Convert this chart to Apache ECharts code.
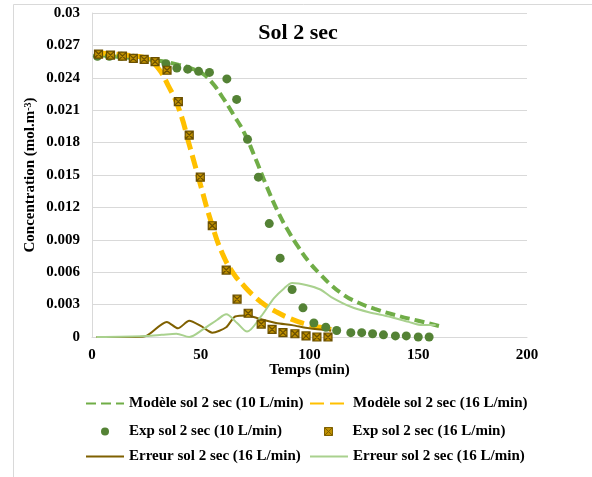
<!DOCTYPE html>
<html>
<head>
<meta charset="utf-8">
<script src="https://cdn.jsdelivr.net/npm/echarts@6/dist/echarts.min.js"></script>
<style>html,body{margin:0;padding:0;background:#fff;}#c{width:592px;height:477px;}</style>
</head>
<body>
<div id="c"></div>
<script>
// ---- Data ----
const xTicks = [0, 50, 100, 150, 200];
const yTicks = [0, 0.003, 0.006, 0.009, 0.012, 0.015, 0.018, 0.021, 0.024, 0.027, 0.03];

const model10T = [2, 15, 30, 40, 45, 50, 55, 60, 65, 70, 75, 80, 85, 90, 95, 100, 105, 110, 115, 120, 130, 140, 150, 160];
const model10C = [0.0261, 0.0259, 0.0256, 0.0252, 0.0249, 0.0245, 0.0236, 0.0222, 0.0206, 0.0189, 0.0166, 0.0141, 0.0118, 0.0099, 0.0083, 0.0069, 0.0058, 0.0048, 0.0040, 0.0034, 0.0026, 0.0020, 0.0015, 0.0010];

const model16T = [2, 10, 20, 25, 30, 35, 40, 45, 50, 55, 60, 65, 70, 75, 80, 85, 90, 95, 100, 105, 110];
const model16C = [0.0263, 0.0262, 0.0260, 0.0258, 0.0250, 0.0233, 0.0211, 0.0176, 0.0140, 0.0105, 0.0077, 0.0059, 0.0047, 0.0037, 0.0029, 0.0023, 0.0018, 0.0014, 0.0011, 0.0009, 0.0007];

const exp10T = [2.5, 8, 13.5, 19, 24, 29, 34, 39, 44, 49, 54, 62, 66.5, 71.5, 76.5, 81.5, 86.5, 92, 97, 102, 107.5, 112.5, 119, 124, 129, 134, 139.5, 144.5, 150, 155];
const exp10C = [0.0260, 0.0260, 0.0260, 0.0258, 0.0257, 0.0255, 0.0253, 0.0249, 0.0248, 0.0246, 0.0245, 0.0239, 0.0220, 0.0183, 0.0148, 0.0105, 0.0073, 0.0044, 0.0027, 0.0013, 0.0009, 0.0006, 0.0004, 0.0004, 0.0003, 0.0002, 0.0001, 0.0001, 0.0000, 0.0000];

const exp16T = [3, 8.5, 14, 19, 24, 29, 34.5, 39.7, 44.7, 49.8, 55.3, 61.7, 66.7, 71.8, 77.8, 82.8, 87.8, 93.3, 98.4, 103.4, 108.5];
const exp16C = [0.0262, 0.0261, 0.0260, 0.0258, 0.0257, 0.0255, 0.0247, 0.0218, 0.0187, 0.0148, 0.0103, 0.0062, 0.0035, 0.0022, 0.0012, 0.0007, 0.0004, 0.0003, 0.0001, 0.0000, 0.0000];

const errBrownT = [2, 20, 25, 34.4, 39.5, 44.7, 50.2, 55.3, 61.7, 65.8, 71.5, 76.8, 84.6, 92, 99.8, 110];
const errBrownC = [0, 0, 0.0001, 0.0014, 0.0008, 0.0015, 0.0010, 0.0004, 0.0009, 0.0019, 0.0020, 0.0017, 0.0013, 0.0011, 0.0008, 0.0006];

const errGreenT = [2, 25, 32, 38.8, 44.7, 51, 57.6, 61.7, 66.7, 71.3, 77.7, 83.7, 88.3, 92, 98.9, 105, 110, 119, 127.3, 136.5, 145.6, 152, 158];
const errGreenC = [0, 0.0001, 0.0002, 0.0003, 0.0, 0.0007, 0.0016, 0.0021, 0.0013, 0.0005, 0.0019, 0.0036, 0.0045, 0.0050, 0.0048, 0.0044, 0.0037, 0.0028, 0.0023, 0.0019, 0.0014, 0.0011, 0.0011];

const names = [
  'Modèle sol 2 sec (10 L/min)',
  'Modèle sol 2 sec (16 L/min)',
  'Exp sol 2 sec (10 L/min)',
  'Exp sol 2 sec (16 L/min)',
  'Erreur sol 2 sec (16 L/min)',
  'Erreur sol 2 sec (16 L/min) '
];

// ---- Helpers ----
const zip = (a, b) => a.map((v, i) => [v, b[i]]);
const FONT = "'Liberation Serif', 'Times New Roman', serif";
const TXT = { fontFamily: FONT, fontWeight: 'bold', fontSize: 15, color: '#000' };
const crossPath = 'path://M0,0L10,0L10,10L0,10Z M0,0L10,10 M10,0L0,10';

function leg(name, left, cy, opts) {
  return Object.assign({
    data: [name], left: left, top: cy - 8, padding: 0, itemGap: 0,
    itemWidth: 38, itemHeight: 14, selectedMode: false,
    itemStyle: { opacity: 0 },
    textStyle: Object.assign({}, TXT, { padding: [2, 0, 0, 0] })
  }, opts || {});
}

const chart = echarts.init(document.getElementById('c'), null, { renderer: 'canvas' });
chart.setOption({
  animation: false,
  backgroundColor: '#fff',
  graphic: [
    { type: 'rect', shape: { x: 13.5, y: 4.5, width: 620, height: 520 }, style: { fill: 'none', stroke: '#d9d9d9', lineWidth: 1 }, silent: true },
    { type: 'text', x: 298, y: 33, style: { text: 'Sol 2 sec', font: "bold 22px 'Liberation Serif', serif", fill: '#000', textAlign: 'center', textVerticalAlign: 'middle' }, z: 10 }
  ],
  grid: { left: 92, right: 65, top: 13, bottom: 140, containLabel: false },
  xAxis: {
    type: 'value', min: xTicks[0], max: xTicks[xTicks.length - 1], interval: 50,
    name: 'Temps (min)', nameLocation: 'middle', nameGap: 26, nameMoveOverlap: false,
    nameTextStyle: TXT,
    axisLine: { show: true, lineStyle: { color: '#d9d9d9' } },
    axisTick: { show: false },
    splitLine: { show: false },
    axisLabel: Object.assign({}, TXT, { margin: 11 })
  },
  yAxis: {
    type: 'value', min: yTicks[0], max: yTicks[yTicks.length - 1], interval: 0.003,
    name: '{n|Concentration (mol.m}{s|-3}{n|)}', nameLocation: 'middle', nameGap: 54, nameRotate: 90,
    nameMoveOverlap: false,
    nameTextStyle: {
      rich: {
        n: { fontFamily: FONT, fontWeight: 'bold', fontSize: 15, color: '#000' },
        s: { fontFamily: FONT, fontWeight: 'bold', fontSize: 10, color: '#000', verticalAlign: 'top' }
      }
    },
    axisLine: { show: true, lineStyle: { color: '#d9d9d9' } },
    axisTick: { show: false },
    splitLine: { show: true, lineStyle: { color: '#d9d9d9', width: 1 } },
    axisLabel: Object.assign({}, TXT, { margin: 12, formatter: v => String(+v.toFixed(3)) })
  },
  legend: [
    leg(names[0], 85, 404),
    leg(names[1], 309, 404),
    leg(names[2], 101, 432, { itemHeight: 8, itemStyle: { opacity: 1 } }),
    leg(names[3], 324, 432, { itemHeight: 8, itemStyle: { opacity: 1, borderColor: '#7F6000', borderWidth: 1 } }),
    leg(names[4], 85, 457),
    leg(names[5], 309, 457)
  ],
  series: [
    { name: names[0], type: 'line', data: zip(model10T, model10C), smooth: 0.5, symbol: 'none', z: 2,
      lineStyle: { color: '#70AD47', width: 4, type: [10, 5] }, itemStyle: { color: '#70AD47' } },
    { name: names[1], type: 'line', data: zip(model16T, model16C), smooth: 0.5, symbol: 'none', z: 2,
      lineStyle: { color: '#FFC000', width: 5, type: [14, 6] }, itemStyle: { color: '#FFC000' } },
    { name: names[2], type: 'scatter', data: zip(exp10T, exp10C), symbol: 'circle', symbolSize: 9, z: 5,
      itemStyle: { color: '#548235', opacity: 1 } },
    { name: names[3], type: 'scatter', data: zip(exp16T, exp16C), symbol: crossPath, symbolSize: 8, z: 6,
      itemStyle: { color: '#BF9000', borderColor: '#6B5000', borderWidth: 1.2, opacity: 1 } },
    { name: names[4], type: 'line', data: zip(errBrownT, errBrownC), smooth: 0.25, symbol: 'none', z: 3,
      lineStyle: { color: '#7F6000', width: 2 }, itemStyle: { color: '#7F6000' } },
    { name: names[5], type: 'line', data: zip(errGreenT, errGreenC), smooth: 0.3, symbol: 'none', z: 3,
      lineStyle: { color: '#A9D18E', width: 2 }, itemStyle: { color: '#A9D18E' } }
  ]
});
</script>
</body>
</html>
